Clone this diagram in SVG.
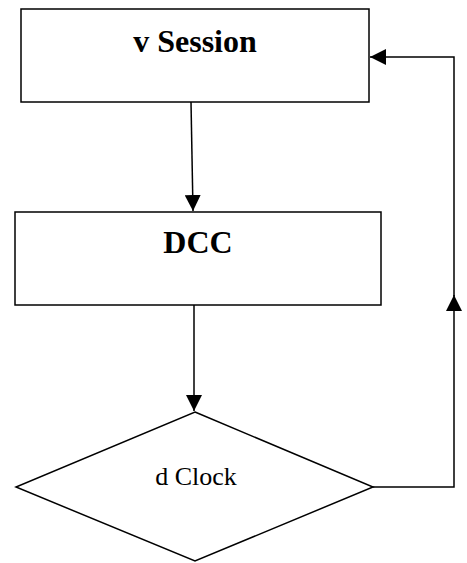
<svg xmlns="http://www.w3.org/2000/svg" width="467" height="563" viewBox="0 0 467 563">
<style>
.box{fill:#fff;stroke:#000;stroke-width:1.5}
.ln{fill:none;stroke:#000;stroke-width:1.5}
.t{font-family:"Liberation Serif","Times New Roman",serif;fill:#000;text-anchor:middle}
.b{font-weight:bold;font-size:32px}
.r{font-size:26px}
</style>
<defs>
<marker id="ah" viewBox="0 0 10 10" refX="10" refY="5" markerWidth="16" markerHeight="16" markerUnits="userSpaceOnUse" orient="auto">
<path d="M0,0 L10,5 L0,10 z" fill="#000"/>
</marker>
</defs>
<rect width="467" height="563" fill="#fff"/>
<g id="n1">
<rect class="box" x="21" y="9" width="348" height="93"/>
<text class="t b" x="195" y="52">v Session</text>
</g>
<g id="n2">
<rect class="box" x="15" y="212" width="366" height="93"/>
<text class="t b" x="198" y="253">DCC</text>
</g>
<g id="n3">
<polygon class="box" points="195,412 373,487 195,561 16,487"/>
<text class="t r" x="196" y="485">d Clock</text>
</g>
<g id="connectors">
<path class="ln" d="M191,102 L193,211" marker-end="url(#ah)"/>
<path class="ln" d="M194,305 L194,411" marker-end="url(#ah)"/>
<path class="ln" d="M373,487 L454,487 L454,295" marker-end="url(#ah)"/>
<path class="ln" d="M454,296 L454,57 L370,57" marker-end="url(#ah)"/>
</g>
</svg>
